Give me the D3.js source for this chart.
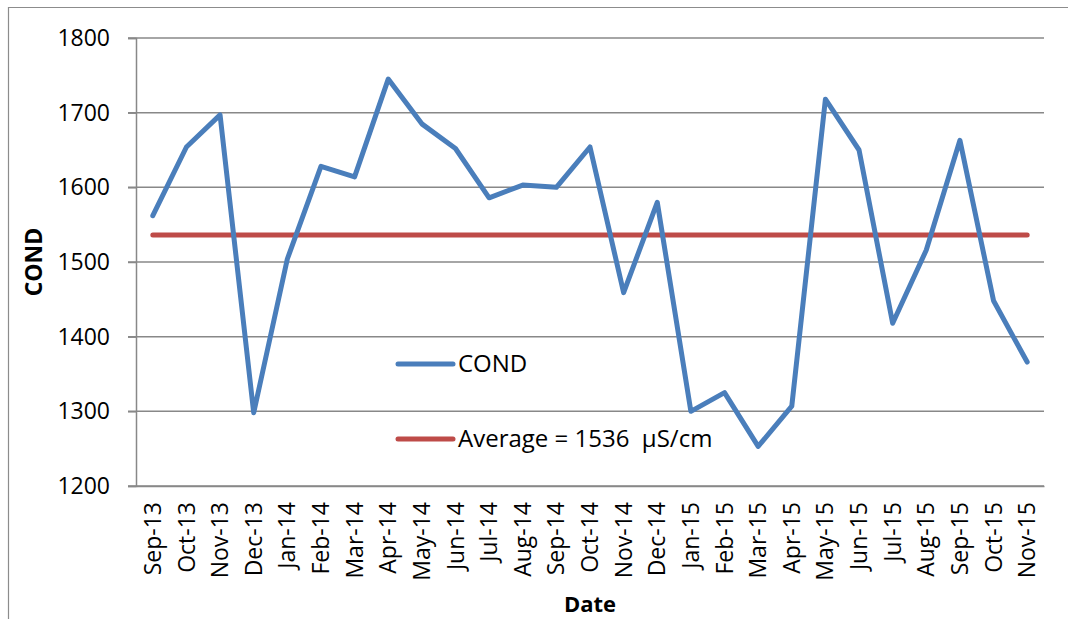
<!DOCTYPE html>
<html>
<head>
<meta charset="utf-8">
<script src="https://cdn.jsdelivr.net/npm/d3@7"></script>
<style>
    body { margin: 0; background: #fff; }
    text { font-family: "Open Sans", sans-serif; fill: #000; }
</style>
</head>
<body>
<div id="chart"></div>
<script>
// categories and values
var months = ["Sep-13", "Oct-13", "Nov-13", "Dec-13", "Jan-14", "Feb-14", "Mar-14", "Apr-14",
    "May-14", "Jun-14", "Jul-14", "Aug-14", "Sep-14", "Oct-14", "Nov-14", "Dec-14",
    "Jan-15", "Feb-15", "Mar-15", "Apr-15", "May-15", "Jun-15", "Jul-15", "Aug-15",
    "Sep-15", "Oct-15", "Nov-15"];
var cond = [1562, 1654, 1697, 1298, 1504, 1628, 1614, 1745, 1685, 1652, 1586, 1603, 1600,
    1654, 1459, 1580, 1300, 1325, 1253, 1307, 1718, 1650, 1418, 1516, 1663, 1448, 1366];
var average = 1536;
var yTicks = [1200, 1300, 1400, 1500, 1600, 1700, 1800];
var legendLabels = ["COND", "Average = 1536  \u00b5S/cm"];

var width = 1068, height = 619;
var margin = {top: 38, right: 24, bottom: 133, left: 136};

var svg = d3.select("#chart")
    .append("svg")
        .attr("width", width)
        .attr("height", height);

// outer chart border (only top and left are in frame)
svg.append("path")
    .attr("d", "M8.5," + height + "V7.5H" + width)
    .attr("fill", "none")
    .attr("stroke", "#8c8c8c")
    .attr("stroke-width", 1.2);

// set the ranges
var x = d3.scaleBand().domain(months).range([margin.left, width - margin.right]);
var y = d3.scaleLinear().domain([1200, 1800]).range([height - margin.bottom, margin.top]);
var cx = function(d) { return x(d) + x.bandwidth() / 2; };

// gridlines
svg.append("g")
    .selectAll("line")
    .data(yTicks)
    .enter().append("line")
        .attr("x1", margin.left - 8)
        .attr("x2", width - margin.right)
        .attr("y1", function(d) { return y(d); })
        .attr("y2", function(d) { return y(d); })
        .attr("stroke", "#888")
        .attr("stroke-width", 1.5);

// y axis
var yAxis = svg.append("g")
    .attr("transform", "translate(" + margin.left + ",0)")
    .call(d3.axisLeft(y).tickValues(yTicks).tickFormat(d3.format("d")).tickSize(8).tickPadding(18));
yAxis.select(".domain").attr("stroke", "#888").attr("stroke-width", 1.5);
yAxis.selectAll(".tick line").attr("stroke", "#888").attr("stroke-width", 1.5);
yAxis.selectAll(".tick text")
    .style("font-family", "Open Sans")
    .style("font-size", "23px")
    .attr("fill", "#000");

// x axis
var xAxis = svg.append("g")
    .attr("transform", "translate(0," + y(1200) + ")")
    .call(d3.axisBottom(x).tickSize(0).tickPadding(0));
xAxis.select(".domain").attr("stroke", "#888").attr("stroke-width", 1.5);
xAxis.selectAll(".tick text")
    .style("font-family", "Open Sans")
    .style("font-size", "23px")
    .attr("fill", "#000")
    .attr("transform", "rotate(-90)")
    .attr("text-anchor", "end")
    .attr("x", -16)
    .attr("y", 0)
    .attr("dy", "0.35em");

// lines
var valueline = d3.line()
    .x(function(d) { return cx(d.month); })
    .y(function(d) { return y(d.value); });

var condData = months.map(function(m, i) { return {month: m, value: cond[i]}; });
var avgData = months.map(function(m) { return {month: m, value: average}; });

svg.append("path")
    .datum(avgData)
    .attr("d", valueline)
    .attr("fill", "none")
    .attr("stroke", "#be4b48")
    .attr("stroke-width", 5)
    .attr("stroke-linecap", "round");

svg.append("path")
    .datum(condData)
    .attr("d", valueline)
    .attr("fill", "none")
    .attr("stroke", "#4a7ebb")
    .attr("stroke-width", 5)
    .attr("stroke-linecap", "round")
    .attr("stroke-linejoin", "round");

// legend
var legendColors = ["#4a7ebb", "#be4b48"];
var legendY = [364, 439];
legendLabels.forEach(function(label, i) {
    svg.append("line")
        .attr("x1", 398).attr("x2", 453)
        .attr("y1", legendY[i]).attr("y2", legendY[i])
        .attr("stroke", legendColors[i])
        .attr("stroke-width", 5)
        .attr("stroke-linecap", "round");
    svg.append("text")
        .attr("x", 458)
        .attr("y", legendY[i])
        .attr("dy", "0.35em")
        .style("font-size", "24px")
        .style("white-space", "pre")
        .text(label);
});

// axis titles
svg.append("text")
    .attr("transform", "translate(42," + ((margin.top + y(1200)) / 2) + ") rotate(-90)")
    .attr("text-anchor", "middle")
    .style("font-size", "23px")
    .style("font-weight", "bold")
    .text("COND");

svg.append("text")
    .attr("x", 590)
    .attr("y", 612)
    .attr("text-anchor", "middle")
    .style("font-size", "22px")
    .style("font-weight", "bold")
    .text("Date");
</script>
</body>
</html>
